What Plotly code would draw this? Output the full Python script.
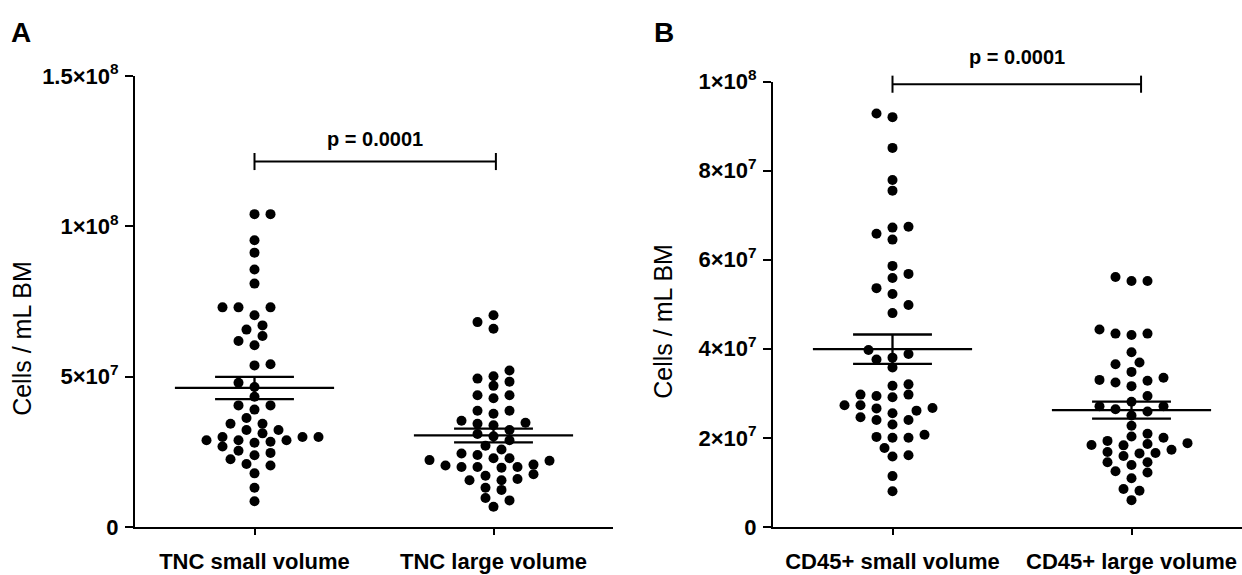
import plotly.graph_objects as go

# ---------------- data (cells / mL BM, in units of 1e6) ----------------
categories_A = ["TNC small volume", "TNC large volume"]
categories_B = ["CD45+ small volume", "CD45+ large volume"]

tnc_small = [104.0, 104.0, 95.3, 91.2, 85.6, 80.9, 73.0, 73.0, 73.0, 70.4, 67.0, 65.6,
             63.5, 61.8, 60.4, 53.7, 54.1, 47.9, 46.5, 43.3, 40.4, 40.4, 39.0, 36.2,
             34.3, 34.3, 32.2, 32.2, 31.1, 29.9, 29.9, 29.9, 28.8, 28.8, 28.8, 28.3,
             28.0, 26.7, 25.3, 24.6, 23.8, 22.5, 20.9, 20.4, 17.8, 13.0, 8.5]
tnc_large = [70.4, 65.9, 68.1, 52.0, 50.1, 49.3, 48.3, 46.9, 43.8, 43.8, 42.8, 38.6,
             38.6, 37.6, 35.3, 34.6, 34.3, 33.8, 32.2, 30.9, 30.1, 28.8, 27.0, 25.7,
             23.9, 24.4, 22.8, 22.8, 22.0, 22.2, 20.7, 20.4, 19.9, 19.9, 19.9, 19.7,
             17.5, 17.0, 15.9, 15.5, 15.5, 12.3, 13.0, 9.6, 8.8, 6.7]
cd45_small = [92.8, 92.0, 85.1, 77.9, 75.5, 67.4, 67.2, 65.8, 64.5, 58.6, 56.8, 55.9,
              53.6, 52.3, 49.8, 48.0, 39.7, 38.8, 38.0, 37.6, 35.8, 31.7, 32.0, 29.7,
              29.7, 29.1, 29.4, 27.3, 27.3, 26.6, 26.7, 26.1, 25.5, 24.6, 24.0, 24.0,
              23.0, 20.7, 20.2, 20.0, 20.0, 17.7, 16.1, 15.8, 11.4, 8.0]
cd45_large = [56.1, 55.2, 55.2, 44.3, 43.4, 43.4, 43.1, 39.2, 36.9, 36.5, 34.8, 33.5,
              33.0, 32.8, 32.4, 31.6, 29.4, 28.1, 27.1, 27.1, 26.4, 25.9, 25.0, 22.7,
              20.9, 20.3, 20.0, 19.3, 18.8, 18.6, 18.3, 18.4, 17.3, 16.6, 16.8, 16.5,
              15.9, 14.5, 14.5, 13.9, 12.5, 12.2, 10.9, 8.5, 8.1, 6.0]

means_A = [46.2, 30.4]
sems_A = [3.7, 2.3]
means_B = [39.9, 26.2]
sems_B = [3.3, 1.9]

p_label = "p = 0.0001"
bracket_x_A = [0.0, 1.01]
bracket_y_A = 121.5
bracket_x_B = [0.0, 1.04]
bracket_y_B = 99.4

yticks_A = [0, 50, 100, 150]
yticklabels_A = ["0", "5×10<sup>7</sup>", "1×10<sup>8</sup>", "1.5×10<sup>8</sup>"]
yticks_B = [0, 20, 40, 60, 80, 100]
yticklabels_B = ["0", "2×10<sup>7</sup>", "4×10<sup>7</sup>", "6×10<sup>7</sup>",
                 "8×10<sup>7</sup>", "1×10<sup>8</sup>"]

SCALE = 1e6

# ---------------- layout geometry (pixels) ----------------
W, H = 1242, 575
A_x0, A_x1 = 135, 613
B_x0, B_x1 = 773, 1242
Y_BOT = 538
A_YTOP = 63
B_YTOP = 69
A_YMAX = 150 * SCALE
B_YMAX = 100 * SCALE
XPX = (A_x1 - A_x0) / 2.0            # px per category unit
A_XR = [-0.5, 1.5]
B_XR = [-0.5, -0.5 + (B_x1 - B_x0) / XPX]

FONT = "Liberation Sans, Arial, Helvetica, sans-serif"


def px2paper_x(px):
    return px / W


def px2paper_y(py):
    return 1 - py / H


def swarm_offsets(values, ypx_per_val, step=8.0, min_dx=16.0, min_dy=10.0):
    order = sorted(range(len(values)), key=lambda i: values[i])
    placed = []
    offs = [0.0] * len(values)
    toggle = 1
    for i in order:
        y = values[i] * ypx_per_val
        cands = [0.0]
        for n in range(1, 30):
            cands += [toggle * n * step, -toggle * n * step]
        chosen = 0.0
        for c in cands:
            if all(((c - px) / min_dx) ** 2 + ((y - py) / min_dy) ** 2 >= 1 for px, py in placed):
                chosen = c
                break
        if chosen != 0:
            toggle = -toggle
        placed.append((chosen, y))
        offs[i] = chosen / XPX
    return offs


fig = go.Figure()

panels = [
    dict(xa="x", ya="y", vals=[tnc_small, tnc_large], means=means_A, sems=sems_A,
         ypx=(Y_BOT - A_YTOP) / A_YMAX),
    dict(xa="x2", ya="y2", vals=[cd45_small, cd45_large], means=means_B, sems=sems_B,
         ypx=(Y_BOT - B_YTOP) / B_YMAX),
]

for p in panels:
    for ci, vals in enumerate(p["vals"]):
        v = [a * SCALE for a in vals]
        offs = swarm_offsets(v, p["ypx"])
        fig.add_trace(go.Scatter(
            x=[ci + o for o in offs], y=v, mode="markers",
            marker=dict(color="black", size=10, line=dict(width=0)),
            xaxis=p["xa"], yaxis=p["ya"], showlegend=False, hoverinfo="skip"))
        m = p["means"][ci] * SCALE
        s = p["sems"][ci] * SCALE
        lw = 2.3
        # mean line
        fig.add_trace(go.Scatter(x=[ci - 0.333, ci + 0.333], y=[m, m], mode="lines",
                                 line=dict(color="black", width=lw),
                                 xaxis=p["xa"], yaxis=p["ya"], showlegend=False, hoverinfo="skip"))
        # SEM caps
        for yy in (m - s, m + s):
            fig.add_trace(go.Scatter(x=[ci - 0.165, ci + 0.165], y=[yy, yy], mode="lines",
                                     line=dict(color="black", width=lw),
                                     xaxis=p["xa"], yaxis=p["ya"], showlegend=False, hoverinfo="skip"))
        fig.add_trace(go.Scatter(x=[ci, ci], y=[m - s, m + s], mode="lines",
                                 line=dict(color="black", width=lw),
                                 xaxis=p["xa"], yaxis=p["ya"], showlegend=False, hoverinfo="skip"))

axis_common = dict(showgrid=False, zeroline=False, showline=True, linecolor="black",
                   linewidth=2, ticks="outside", tickcolor="black", tickwidth=2,
                   fixedrange=True)

XTICKFONT = dict(size=22, weight="bold", family=FONT)
YTICKFONT = dict(size=22, weight="bold", family=FONT)

fig.update_layout(
    width=W, height=H, margin=dict(l=0, r=0, t=0, b=0),
    paper_bgcolor="white", plot_bgcolor="white",
    font=dict(family=FONT, color="black"),
    xaxis=dict(domain=[px2paper_x(A_x0), px2paper_x(A_x1)], range=A_XR, anchor="y",
               tickvals=[0, 1], ticktext=categories_A, ticklen=6, ticklabelstandoff=8,
               tickfont=XTICKFONT, **axis_common),
    yaxis=dict(domain=[px2paper_y(Y_BOT), px2paper_y(A_YTOP)], range=[0, A_YMAX], anchor="x",
               tickvals=[t * SCALE for t in yticks_A], ticktext=yticklabels_A, ticklen=8,
               ticklabelstandoff=2, tickfont=YTICKFONT, **axis_common),
    xaxis2=dict(domain=[px2paper_x(B_x0), px2paper_x(B_x1)], range=B_XR, anchor="y2",
                tickvals=[0, 1], ticktext=categories_B, ticklen=6, ticklabelstandoff=8,
                tickfont=XTICKFONT, **axis_common),
    yaxis2=dict(domain=[px2paper_y(Y_BOT), px2paper_y(B_YTOP)], range=[0, B_YMAX], anchor="x2",
                tickvals=[t * SCALE for t in yticks_B], ticktext=yticklabels_B, ticklen=8,
                ticklabelstandoff=2, tickfont=YTICKFONT, **axis_common),
)

# significance brackets (converted from data values through the panel scales)
def add_bracket(bx, by, x0px, xr, ypx_per_val, text_gap_px):
    def xp(x):
        return px2paper_x(x0px + (x - xr[0]) * XPX)
    def yp(v):
        return px2paper_y(Y_BOT - v * ypx_per_val)
    yv = by * SCALE
    half = 9 / ypx_per_val
    fig.add_shape(type="line", xref="paper", yref="paper", x0=xp(bx[0]), x1=xp(bx[1]),
                  y0=yp(yv), y1=yp(yv), line=dict(color="black", width=2))
    for x in bx:
        fig.add_shape(type="line", xref="paper", yref="paper", x0=xp(x), x1=xp(x),
                      y0=yp(yv - half), y1=yp(yv + half), line=dict(color="black", width=2))
    fig.add_annotation(text=p_label, x=xp((bx[0] + bx[1]) / 2),
                       y=yp(yv + text_gap_px / ypx_per_val), xref="paper", yref="paper",
                       showarrow=False, font=dict(size=20, weight="bold", family=FONT),
                       xanchor="center", yanchor="middle")

add_bracket(bracket_x_A, bracket_y_A, A_x0, A_XR, panels[0]["ypx"], 24)
add_bracket(bracket_x_B, bracket_y_B, B_x0, B_XR, panels[1]["ypx"], 29)

# axis titles and panel letters
for cx, cy in ((22, 340), (663, 322)):
    fig.add_annotation(text="Cells / mL BM", x=px2paper_x(cx), y=px2paper_y(cy),
                       xref="paper", yref="paper", showarrow=False, textangle=-90,
                       font=dict(size=25, family=FONT), xanchor="center", yanchor="middle")
for letter, cx in (("A", 21), ("B", 664)):
    fig.add_annotation(text=letter, x=px2paper_x(cx), y=px2paper_y(17), xref="paper", yref="paper",
                       showarrow=False, font=dict(size=28, weight="bold", family=FONT),
                       xanchor="center", yanchor="middle")

fig.write_html("out.html")
